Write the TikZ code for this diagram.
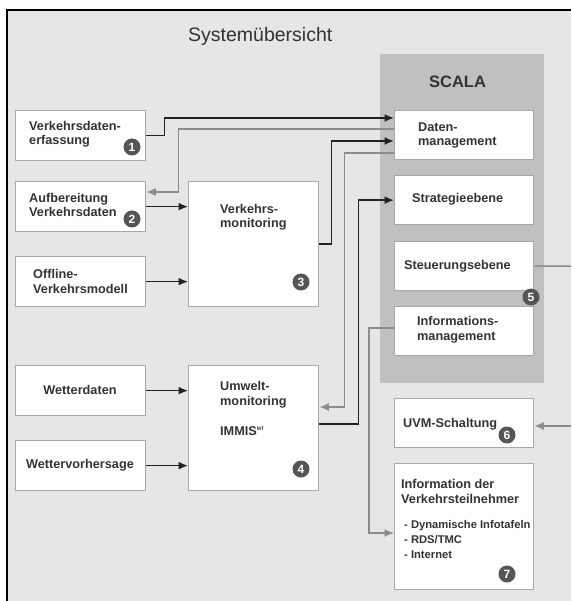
\documentclass[tikz,border=0pt]{standalone}
\usepackage{fontspec}
\setmainfont{Liberation Sans}
\usetikzlibrary{arrows.meta}
\definecolor{bg}{HTML}{E6E6E6}
\definecolor{scalac}{HTML}{C0C0C2}
\definecolor{bord}{HTML}{A8A8A8}
\definecolor{txtc}{HTML}{333333}
\definecolor{dk}{HTML}{222222}
\definecolor{gl}{HTML}{8C8C8C}
\definecolor{numc}{HTML}{555555}
\begin{document}
\begin{tikzpicture}[x=1pt,y=-1pt,
  box/.style={draw=bord, line width=1.3pt, fill=white, anchor=north west, inner sep=0pt},
  txt/.style={text=txtc, font=\fontsize{12.7}{14.5}\selectfont\bfseries, align=left, inner sep=0pt, anchor=base west},
  ctxt/.style={text=txtc, font=\fontsize{12.7}{14.5}\selectfont\bfseries, inner sep=0pt, anchor=base},
  num/.style={circle, fill=numc, text=white, font=\fontsize{12}{12}\selectfont\bfseries, minimum size=17pt, inner sep=0pt},
  blk/.style={draw=dk, line width=1.5pt, -{Latex[length=9.5pt,width=8pt]}},
  gry/.style={draw=gl, line width=1.5pt},
  gryarr/.style={gry, -{Latex[length=9.5pt,width=8pt]}}
]
\useasboundingbox (0,0) rectangle (571,601);
\fill[bg] (7,10) rectangle (571,601);
\draw[black, line width=1.8pt] (7,601) -- (7,10) -- (571,10);

\node[text=txtc, font=\fontsize{19.5}{22}\selectfont, anchor=base west, inner sep=0pt] (title) at (188,42) {Systemübersicht};

% SCALA block
\node[fill=scalac, minimum width=164pt, minimum height=329pt, anchor=north west, inner sep=0pt] (scala) at (380,54) {};
\node[text=txtc, font=\fontsize{16.5}{18}\selectfont\bfseries, anchor=base, inner sep=0pt] (scalat) at (457.5,88) {SCALA};

% left boxes
\node[box, minimum width=130pt, minimum height=50pt] (b1) at (15,110) {};
\node[box, minimum width=130pt, minimum height=50pt] (b2) at (15,181) {};
\node[box, minimum width=130pt, minimum height=50pt] (off) at (15,256) {};
\node[box, minimum width=130pt, minimum height=125pt] (b3) at (188,181) {};
\node[box, minimum width=130pt, minimum height=50pt] (wd) at (15,365) {};
\node[box, minimum width=130pt, minimum height=50pt] (wv) at (15,440) {};
\node[box, minimum width=130pt, minimum height=125pt] (b4) at (188,365) {};

% right boxes
\node[box, minimum width=139pt, minimum height=49pt] (dm) at (394,110) {};
\node[box, minimum width=139pt, minimum height=49pt] (st) at (394,175) {};
\node[box, minimum width=139pt, minimum height=49pt] (se) at (394,241) {};
\node[box, minimum width=139pt, minimum height=49pt] (im) at (394,306) {};
\node[box, minimum width=139pt, minimum height=49pt] (uvm) at (394,398) {};
\node[box, minimum width=139pt, minimum height=126pt] (inf) at (394,463) {};

% texts (base anchor = baseline of the last line)
\node[txt] (t1) at (29,145) {Verkehrsdaten-\\erfassung};
\node[txt] (t2) at (29,217) {Aufbereitung\\Verkehrsdaten};
\node[txt] (toff) at (33,293) {Offline-\\Verkehrsmodell};
\node[txt] (t3) at (220,228) {Verkehrs-\\monitoring};
\node[ctxt] (twd) at (80,394) {Wetterdaten};
\node[ctxt] (twv) at (80,468) {Wettervorhersage};
\node[txt] (t4) at (220,405) {Umwelt-\\monitoring};
\node[txt] (timmis) at (220,435) {IMMIS\raisebox{5pt}{\fontsize{5}{5}\selectfont MT}};
\node[txt] (tdm) at (418,146) {Daten-\\management};
\node[txt] (tst) at (412,203) {Strategieebene};
\node[txt] (tse) at (404,269) {Steuerungsebene};
\node[txt] (tim) at (417,340) {Informations-\\management};
\node[txt] (tuvm) at (403,427) {UVM-Schaltung};
\node[txt] (tinf) at (401,503) {Information der\\Verkehrsteilnehmer};
\node[txt, font=\fontsize{11.2}{15}\selectfont\bfseries] (tlist) at (404,558) {- Dynamische Infotafeln\\- RDS/TMC\\- Internet};

% numbers
\node[num] (n1) at (132,147) {1};
\node[num] (n2) at (132,219) {2};
\node[num] (n3) at (301,282) {3};
\node[num] (n4) at (301,469) {4};
\node[num] (n5) at (531,297) {5};
\node[num] (n6) at (507,435) {6};
\node[num] (n7) at (507,574) {7};

% off-picture ends
\coordinate (outA) at (571,266);
\coordinate (outB) at (571,426);

% connectors
\draw[blk] (b1.east) -- ++(18,0) |- ([yshift=-8pt]dm.north west);
\draw[gryarr] ([yshift=-19pt]dm.north west) -| ([xshift=32pt,yshift=-11pt]b2.north east) -- ([yshift=-11pt]b2.north east);
\draw[blk] (b2.east) -- (b3.west |- b2.east);
\draw[blk] (off.east) -- (b3.west |- off.east);
\draw[blk] (b3.east) -- ++(12,0) |- ([yshift=-31pt]dm.north west);
\draw[gryarr] ([yshift=-43pt]dm.north west) -| ([xshift=25pt,yshift=-42pt]b4.north east) -- ([yshift=-42pt]b4.north east);
\draw[blk] ([yshift=-59pt]b4.north east) -- ++(39,0) |- (st.west);
\draw[gryarr] ([yshift=-22pt]im.north west) -| ([xshift=-25pt,yshift=-70pt]inf.north west) -- ([yshift=-70pt]inf.north west);
\draw[gry] (se.east) -- (outA);
\draw[gryarr] (outB) -- (uvm.east |- outB);
\draw[blk] (wd.east) -- (b4.west |- wd.east);
\draw[blk] (wv.east) -- (b4.west |- wv.east);
\end{tikzpicture}
\end{document}
